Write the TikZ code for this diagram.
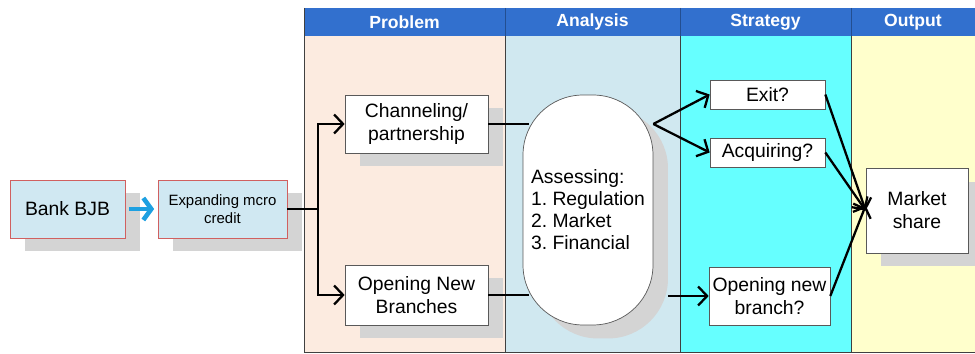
\documentclass[tikz,border=0pt]{standalone}
\usepackage{fontspec}
\setmainfont{Liberation Sans}
\usetikzlibrary{shadows,arrows.meta}
\frenchspacing

\definecolor{headblue}{RGB}{50,112,206}
\definecolor{probcol}{RGB}{252,235,224}
\definecolor{anacol}{RGB}{208,232,240}
\definecolor{stratcol}{RGB}{102,255,255}
\definecolor{outcol}{RGB}{255,255,204}
\definecolor{startfill}{RGB}{208,232,242}
\definecolor{startline}{RGB}{208,96,96}
\definecolor{arrowblue}{RGB}{30,160,225}
\definecolor{shadowgray}{RGB}{212,212,212}

\begin{document}
\begin{tikzpicture}[x=0.02cm,y=-0.02cm,
                    font=\fontsize{11}{13}\selectfont,
                    boxshadow/.style={drop shadow={shadow xshift=0.3cm,shadow yshift=-0.27cm,opacity=1,fill=shadowgray}},
                    startbox/.style={draw=startline,fill=startfill,boxshadow,minimum height=1.16cm,align=center},
                    plainbox/.style={draw=black!65,fill=white,align=center,inner sep=2pt},
                    headtext/.style={text=white,font=\fontsize{10}{12}\selectfont\bfseries},
                    link/.style={line width=1.3pt},
                    flow/.style={link,-{Straight Barb[length=1.8mm,width=3.8mm]}}]
                            \useasboundingbox (0,0) rectangle (975,354);
                            \fill[probcol] (304,36) rectangle (505,352);
                            \fill[anacol] (505,36) rectangle (680,352);
                            \fill[stratcol] (680,36) rectangle (851,352);
                            \fill[outcol] (851,36) rectangle (975,352);
                            \fill[headblue] (304,8) rectangle (975,36);
                            \foreach \x in {505,680,851}
                                \draw[headblue!70!black] (\x,8) -- (\x,36);
                            \draw[black!75] (304,8) -- (304,352) -- (975,352);
                            \foreach \x in {505,680,851}
                                \draw[black!75] (\x,36) -- (\x,352);
                            \node[headtext] (hprob) at (404.5,22) {Problem};
                            \node[headtext] (hana) at (592.5,22) {Analysis};
                            \node[headtext] (hstrat) at (765.5,22) {Strategy};
                            \node[headtext] (hout) at (913,22) {Output};
                            \begin{scope}[every node/.style={startbox}]
                                \node[minimum width=2.3cm] (bank) at (67.5,209) {Bank BJB};
                                \node[minimum width=2.58cm,font=\fontsize{8.5}{10.5}\selectfont] (expand) at (222.5,209) {Expanding mcro\\credit};
                            \end{scope}
                            \begin{scope}[every node/.style={plainbox}]
                                \node[boxshadow,minimum width=2.86cm,minimum height=1.16cm] (chan) at (416.5,124) {Channeling/\\partnership};
                                \node[boxshadow,minimum width=2.86cm,minimum height=1.2cm] (open) at (416.5,295) {Opening New\\Branches};
                                \node[boxshadow,rounded corners=1.2cm,minimum width=2.6cm,minimum height=4.6cm,align=left,font=\fontsize{11}{12.5}\selectfont] (assess) at (588,210) {Assessing:\\1. Regulation\\2. Market\\3. Financial};
                                \node[minimum width=2.3cm,minimum height=0.58cm] (exit) at (767.5,94.5) {Exit?};
                                \node[minimum width=2.3cm,minimum height=0.58cm] (acq) at (767.5,152.5) {Acquiring?};
                                \node[minimum width=2.34cm,minimum height=1.16cm] (nbranch) at (769.5,296) {Opening new\\branch?};
                                \node[boxshadow,minimum width=2.04cm,minimum height=1.7cm] (market) at (917,210.5) {Market\\share};
                            \end{scope}
                            \coordinate (split) at (318,209);
                            \coordinate (fork) at (assess.east |- chan.east);
                            \draw[arrowblue,line width=2.6pt,-{Straight Barb[length=1.6mm,width=4.4mm]},shorten <=2pt,shorten >=2pt] (bank) -- (expand);
                            \draw[link] (expand) -- (split);
                            \draw[flow] (split) |- (chan);
                            \draw[flow] (split) |- (open);
                            \draw[link] (chan.east) -- ([xshift=0.12cm]chan.east -| assess.west);
                            \draw[link] (open.east) -- ([xshift=0.12cm]open.east -| assess.west);
                            \draw[flow] ([xshift=0.3cm]assess.east |- nbranch.west) -- (nbranch.west);
                            \begin{scope}[every edge/.style={draw,flow}]
                                \draw (fork) edge (exit.west);
                                \draw (fork) edge (acq.west);
                                \draw (exit.east) edge (market.west);
                                \draw (acq.east) edge (market.west);
                                \draw (nbranch.east) edge ([yshift=0.1cm]market.west);
                            \end{scope}
                        \end{tikzpicture}
\end{document}
